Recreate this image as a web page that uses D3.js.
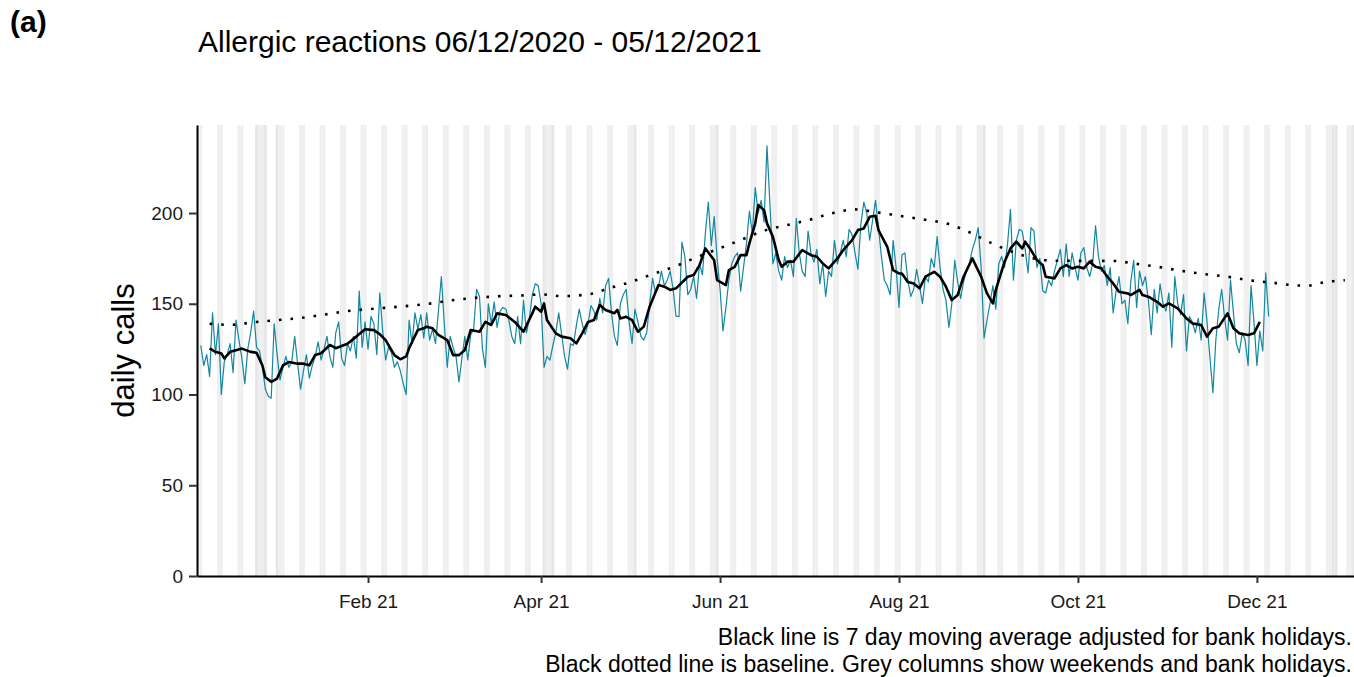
<!DOCTYPE html>
<html><head><meta charset="utf-8">
<script src="https://cdn.jsdelivr.net/npm/d3@7"></script>
<style>
body{margin:0;background:#fff}
svg{display:block}
text{font-family:"Liberation Sans",Arial,Helvetica,sans-serif}
</style>
</head><body>
<svg id="chart" width="1354" height="677"></svg>
<script>
// ---------- DATA ----------
const startDate = "2020-12-06";          // day 0 of the daily series
const panelLabel = "(a)";
const titleText = "Allergic reactions 06/12/2020 - 05/12/2021";
const yAxisTitle = "daily calls";
const captionLines = [
  "Black line is 7 day moving average adjusted for bank holidays.",
  "Black dotted line is baseline. Grey columns show weekends and bank holidays."
];

// daily calls, one value per day from 06/12/2020 to 05/12/2021
const dailyCalls = [
  127,116,122,110,145,122,139,100,118,122,
  128,112,141,130,120,106,125,134,146,126,
  124,115,103,99,98,139,122,108,115,121,
  115,118,132,117,103,113,122,109,116,121,
  129,119,125,132,121,
  115,134,140,120,116,128,124,132,120,157,
  126,140,125,143,139,122,156,135,119,126,
  123,115,118,113,106,100,141,128,145,136,
  144,131,145,130,136,128,146,165,139,115,
  132,126,121,107,120,132,
  119,133,136,158,154,125,115,150,139,151,
  137,146,148,147,141,132,128,143,128,152,
  134,142,155,161,160,150,115,121,119,127,
  134,145,133,121,114,128,127,138,147,139,
  133,139,149,146,141,153,
  145,160,164,145,132,127,150,155,158,140,
  128,147,140,132,130,134,150,164,156,159,
  168,160,163,168,158,143,143,184,176,155,
  158,165,153,172,166,189,206,182,198,175,
  158,135,148,163,172,
  176,178,157,170,183,201,189,214,200,207,
  195,237,205,172,178,168,163,176,170,174,
  165,197,178,168,165,190,178,173,180,161,
  172,154,168,165,185,172,178,185,176,191,
  188,178,169,194,206,200,185,
  196,207,192,176,163,160,155,185,170,148,
  177,178,163,154,158,169,160,150,165,162,
  175,170,187,170,158,152,137,150,174,162,
  153,162,168,172,180,185,192,170,131,141,
  150,160,147,172,176,
  170,183,202,163,185,191,190,180,167,192,
  190,170,175,157,156,163,160,168,174,180,
  165,183,165,178,170,163,178,181,170,165,
  172,193,176,168,171,160,170,145,157,165,
  150,152,139,162,174,148,
  168,160,165,152,133,158,145,161,150,146,
  156,126,165,150,144,155,124,143,140,134,
  142,130,156,140,120,101,130,147,158,142,
  130,163,145,128,123,134,130,116,160,140,
  116,135,124,167,143
];

// 7 day moving average: [day offset, value]
const movingAverage = [
  [3,125.4],[5,123.5],[7,122.6],[8,119.9],[10,123.5],[12,124.4],[14,125.3],[17,123.5],[19,123],[21,116],
  [22,109.5],[24,107],[26,108.8],[28,116],[30,117.9],[33,117],[35,117],[37,116.1],[39,121.8],[41,122.7],[44,127.3],
  [46,125.5],[50,128],[53,131.9],[56,136],[59,135.5],[61,133.3],[63,130],[66,121.7],[68,119.4],[70,121],[71,125.5],
  [74,135.6],[76,136.5],[77,137.4],[79,136.5],[81,132.8],[84,130],[86,121.7],[88,121.7],[90,124.5],
  [92,135.5],[95,134.6],[97,140],[99,138.3],[101,144.7],[104,143.8],[107,140],[110,134.6],[113,144.7],[114,148.4],
  [116,145.6],[117,150.2],[118,141.1],[121,133.7],[123,131.9],[126,131],[128,128.2],[130,133.7],[132,140],[134,141],[136,149.3],
  [138,146.6],[141,144.8],[142,146.6],[143,141.9],[145,142.8],[147,141],[149,134.6],[151,137.4],[153,148.4],[156,160.3],
  [158,159.4],[160,157.6],[162,158.5],[166,164.9],[168,165.8],[170,171.3],[172,180.5],[175,174],[176,163],[179,160.3],[180,168.5],[182,170.3],
  [184,176.8],[186,176.8],[187,183.3],[189,194.3],[190,204.4],[192,201.6],[193,194.3],[195,187],[197,174.1],[198,170.4],
  [200,173.2],[202,173.2],[205,179.6],[208,176.8],[210,175.9],[212,172.2],[214,169.5],[217,175],[219,179.6],[222,185.1],
  [224,190.6],[226,191.5],[228,197.9],
  [230,198.5],[231,190.6],[234,181.4],[236,168.5],[238,166.7],[239,166.7],[241,162],[243,161.2],[245,158.5],[247,164.9],
  [250,167.6],[252,164.9],[254,159.4],[256,152],[258,154.8],[260,164.9],[263,175],[266,164.9],[268,155.7],[270,150.2],[271,157.6],[274,173.2],
  [276,180.5],[278,184.2],[280,180.5],[281,184.2],[283,179.6],[285,174.1],[287,171.3],[288,164.9],[291,164],[293,169.5],
  [295,171.3],[297,169.5],[299,170.4],[301,169.5],[303,173.2],[305,170.4],[307,169.5],[309,164.9],[311,161.2],[313,156.6],
  [316,155.7],[317,154.8],[320,157.6],
  [321,154.8],[323,153.9],[326,151.1],[328,148.4],[330,150.2],[333,147.5],[334,145.6],[336,141.9],[338,139.2],[341,138.3],
  [343,131.9],[345,136.5],[347,137.4],[350,144.7],[352,136.5],[354,133.7],[357,132.8],[359,133.7],[361,140]
];

// baseline: [day offset, value]
const baseline = [
  [3,139.0],[10,138.4],[18,139.8],[26,141.0],[34,142.2],[42,144.0],[50,146.0],[61,147.5],[77,149.9],[88,152.4],
  [100,154.0],[112,154.8],[116,155.2],[123,154.2],[134,155.7],[138,158.0],[146,161.7],[154,166.3],[162,170.8],[169,175.6],
  [176,180.0],[184,185.1],[192,190.3],[200,193.4],[208,196.5],[215,199.8],[223,202.0],[230,200.5],[238,198.5],[246,196.5],
  [254,194.3],[262,189.4],[269,183.8],[276,179.0],[284,175.0],[291,173.7],[311,173.6],[318,172.2],[326,170.4],[334,168.2],
  [342,166.4],[350,164.9],[358,162.8],[366,161.5],[374,160.1],[378,160.1],[381,161.2],[385,162.3],[390,163.0]
];

const bankHolidays = ["2020-12-25","2020-12-28","2021-01-01","2021-04-02","2021-04-05",
  "2021-05-03","2021-05-31","2021-08-30","2021-12-27","2021-12-28","2022-01-03"];
const xTickDates = ["2021-02-01","2021-04-01","2021-06-01","2021-08-01","2021-10-01","2021-12-01"];
const yTicks = [0,50,100,150,200];

// ---------- CHART ----------
const svg = d3.select("#chart");
const W = 1354, H = 677;
const M = {left:197, right:1354, top:125, bottom:576};
const parse = d3.utcParse("%Y-%m-%d");
const t0 = parse(startDate);
const DAY = 864e5;
const dayToDate = d => new Date(t0.getTime() + d * DAY);

const x = d3.scaleUtc().domain([dayToDate(-1.3), dayToDate(393.1)]).range([M.left, M.right]);
const y = d3.scaleLinear().domain([0, 248.5]).range([M.bottom, M.top]);

svg.append("rect").attr("width", W).attr("height", H).attr("fill", "#fff");

svg.append("clipPath").attr("id", "clip")
  .append("rect").attr("x", M.left).attr("y", M.top - 20)
  .attr("width", M.right - M.left).attr("height", M.bottom - M.top + 20);

const plot = svg.append("g").attr("clip-path", "url(#clip)");

// grey columns: weekends and bank holidays
const holidaySet = new Set(bankHolidays);
const fmtDay = d3.utcFormat("%Y-%m-%d");
const columns = [];
for (let d = -3; d <= 395; d++) {
  const dt = dayToDate(d);
  const dow = dt.getUTCDay();
  const hol = holidaySet.has(fmtDay(dt));
  if (dow === 0 || dow === 6 || hol) columns.push({d, hol});
}
plot.append("g").selectAll("rect").data(columns).join("rect")
  .attr("x", c => x(dayToDate(c.d - 0.5)))
  .attr("width", c => x(dayToDate(c.d + 0.5)) - x(dayToDate(c.d - 0.5)))
  .attr("y", M.top)
  .attr("height", M.bottom - M.top)
  .attr("fill", c => c.hol ? "#e6e6e6" : "#efefef");

// daily line
const dailyLine = d3.line().x((v, i) => x(dayToDate(i))).y(v => y(v));
plot.append("path").datum(dailyCalls)
  .attr("d", dailyLine).attr("fill", "none")
  .attr("stroke", "#13879f").attr("stroke-width", 1.2).attr("stroke-linejoin", "round");

// moving average
const pairLine = d3.line().x(p => x(dayToDate(p[0]))).y(p => y(p[1]));
plot.append("path").datum(movingAverage)
  .attr("d", pairLine).attr("fill", "none")
  .attr("stroke", "#000").attr("stroke-width", 2.6).attr("stroke-linejoin", "round");

// baseline (dotted)
const smoothLine = d3.line().x(p => x(dayToDate(p[0]))).y(p => y(p[1])).curve(d3.curveMonotoneX);
plot.append("path").datum(baseline)
  .attr("d", smoothLine).attr("fill", "none")
  .attr("stroke", "#000").attr("stroke-width", 2.6).attr("stroke-dasharray", "2.6 9");

// axes
const yAxis = d3.axisLeft(y).tickValues(yTicks).tickSize(8).tickPadding(6).tickSizeOuter(0);
const gy = svg.append("g").attr("transform", `translate(${M.left},0)`).call(yAxis);
const xAxis = d3.axisBottom(x).tickValues(xTickDates.map(parse))
  .tickFormat(d3.utcFormat("%b %y")).tickSize(7).tickPadding(12).tickSizeOuter(0);
const gx = svg.append("g").attr("transform", `translate(0,${M.bottom})`).call(xAxis);

[gx, gy].forEach(g => {
  g.select(".domain").attr("stroke", "#000").attr("stroke-width", 2);
  g.selectAll(".tick line").attr("stroke", "#333").attr("stroke-width", 2);
  g.selectAll(".tick text").attr("fill", "#1a1a1a").style("font-size", "19px")
    .style("font-family", '"Liberation Sans",Arial,sans-serif');
});

// texts
svg.append("text").attr("x", 10).attr("y", 32).text(panelLabel)
  .style("font-size", "30px").style("font-weight", "bold").attr("fill", "#000");
svg.append("text").attr("x", 198).attr("y", 52).text(titleText)
  .style("font-size", "30px").attr("fill", "#000");
svg.append("text")
  .attr("transform", `translate(134,${(M.top + M.bottom) / 2}) rotate(-90)`)
  .attr("text-anchor", "middle").text(yAxisTitle)
  .style("font-size", "31px").attr("fill", "#000");
svg.append("g").selectAll("text").data(captionLines).join("text")
  .attr("x", 1352).attr("y", (d, i) => 645 + i * 27)
  .attr("text-anchor", "end").text(d => d)
  .style("font-size", "23px").attr("fill", "#000");
</script>
</body></html>
